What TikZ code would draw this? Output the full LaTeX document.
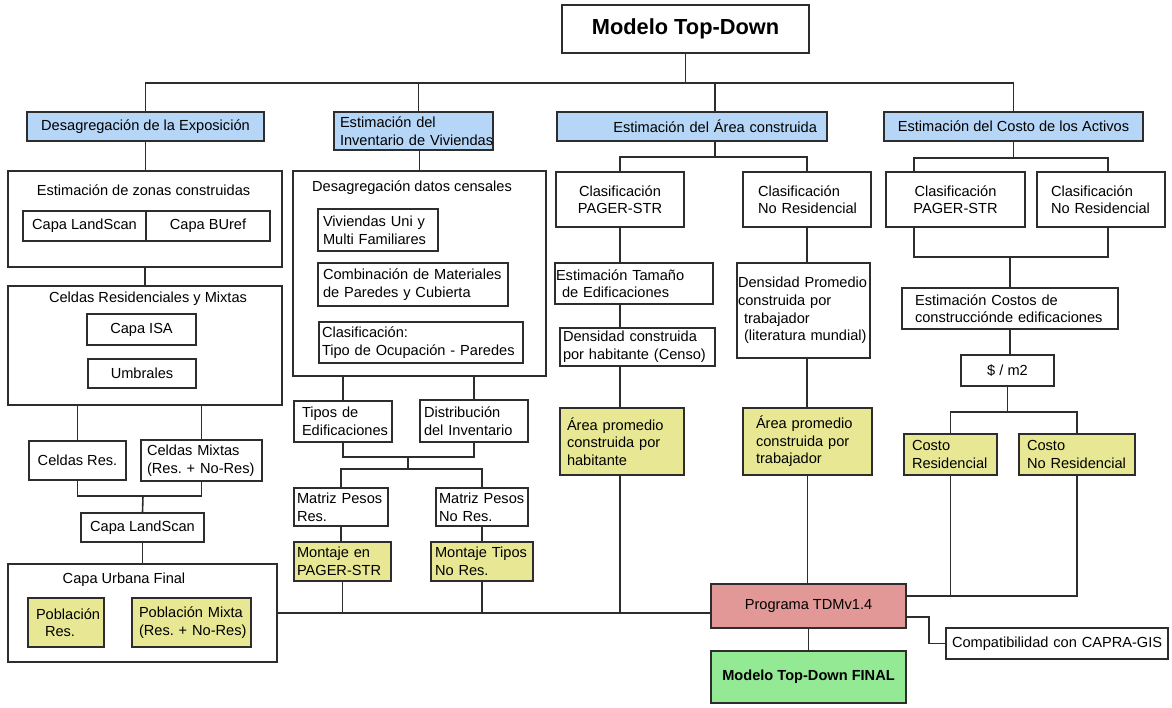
\documentclass[tikz,border=0pt]{standalone}
\usepackage{fontspec}
\setmainfont{Liberation Sans}
\usepackage{tikz}
\usetikzlibrary{calc}

\definecolor{hdrblue}{RGB}{182,214,248}
\definecolor{resyellow}{RGB}{232,232,148}
\definecolor{progred}{RGB}{226,152,150}
\definecolor{fingreen}{RGB}{148,234,148}
\definecolor{linegray}{RGB}{45,45,45}
\frenchspacing

\begin{document}
\begin{tikzpicture}[x=1pt, y=-1pt, font=\fontsize{14.6}{17.6}\selectfont]
	\tikzstyle{every node}=[inner sep=0pt]
	\tikzstyle{box}=[draw=linegray, line width=1.5pt, fill=white, align=center]
	\tikzstyle{txt}=[box, align=left, execute at begin node={\rightskip=0pt plus 1fil minus 80pt}]
	\tikzstyle{hdr}=[box, fill=hdrblue]
	\tikzstyle{yel}=[txt, fill=resyellow]
	\tikzstyle{wire}=[draw=linegray, line width=1.6pt]
	
	\useasboundingbox (0,0) rectangle (1172,708);
	
	\node [box, font=\fontsize{21.8}{26}\selectfont\bfseries, minimum width=247pt, minimum height=48pt] (mtd) at (685.5,29) {Modelo Top-Down};
	\coordinate (bar) at (685.5,83);
	
	% cabeceras
	\node [hdr, minimum width=237pt, minimum height=29pt] (h1) at (145.5,126.5) {Desagregación de la Exposición};
	\node [txt, fill=hdrblue, text width=147pt, inner xsep=6pt, minimum height=38pt] (h2) at (413.5,131) {Estimación del\\Inventario de Viviendas};
	\node [hdr, align=right, text width=250pt, inner xsep=10pt, minimum height=29pt] (h3) at (692,126.5) {Estimación del Área construida};
	\node [hdr, minimum width=259pt, minimum height=29pt] (h4) at (1013.5,126.5) {Estimación del Costo de los Activos};
	
	% exposicion
	\node [box, minimum width=274pt, minimum height=96pt] (zc) at (145,219) {};
	\node (zct) at (143.5,190) {Estimación de zonas construidas};
	\node [box, minimum width=123pt, minimum height=30pt] (ls1) at (84.5,226) {Capa LandScan};
	\node [box, minimum width=124pt, minimum height=30pt] (bu) at (208,226) {Capa BUref};
	
	\node [box, minimum width=274pt, minimum height=119pt] (crm) at (145,345.5) {};
	\node (crmt) at (148,299) {Celdas Residenciales y Mixtas};
	\node [box, minimum width=109pt, minimum height=31pt] (isa) at (141.5,329.5) {Capa ISA};
	\node [box, minimum width=108pt, minimum height=29pt] (umb) at (142,373.5) {Umbrales};
	
	\node [box, minimum width=97pt, minimum height=39pt] (cres) at (77.5,460.5) {Celdas Res.};
	\node [txt, text width=109pt, inner xsep=6pt, minimum height=41pt] (cmix) at (201.5,460.5) {Celdas Mixtas\\(Res. + No-Res)};
	\node [box, minimum width=123pt, minimum height=29pt] (ls2) at (142.5,527.5) {Capa LandScan};
	
	\node [box, minimum width=269pt, minimum height=98pt] (cuf) at (142.5,613) {};
	\node (cuft) at (124,580) {Capa Urbana Final};
	\node [yel, text width=60pt, inner xsep=8pt, minimum height=49pt] (pres) at (66,622.5) {Población\\\hspace*{9pt}Res.};
	\node [yel, text width=105pt, inner xsep=7pt, minimum height=49pt] (pmix) at (191.5,622.5) {Población Mixta\\(Res. + No-Res)};
	
	% inventario
	\node [box, minimum width=253pt, minimum height=205pt] (dc) at (419.5,273.5) {};
	\node [anchor=west] (dct) at (312,188) {Desagregación datos censales};
	\node [txt, text width=110pt, inner xsep=5pt, minimum height=42pt] (vuf) at (378,230) {Viviendas Uni y\\Multi Familiares};
	\node [txt, text width=180pt, inner xsep=5pt, minimum height=43pt] (cmat) at (413,284.5) {Combinación de Materiales\\de Paredes y Cubierta};
	\node [txt, text width=198pt, inner xsep=3pt, minimum height=41pt] (clas) at (421,342.5) {Clasificación:\\Tipo de Ocupación - Paredes};
	
	\node [txt, text width=82pt, inner xsep=8pt, minimum height=41pt] (tipos) at (343,421.5) {Tipos de\\Edificaciones};
	\node [txt, text width=100pt, inner xsep=4pt, minimum height=42pt] (dist) at (474,421) {Distribución\\del Inventario};
	\node [txt, text width=88pt, inner xsep=3pt, minimum height=38pt] (mres) at (341,507) {Matriz Pesos\\Res.};
	\node [txt, text width=86pt, inner xsep=3pt, minimum height=38pt] (mnres) at (482,507) {Matriz Pesos\\No Res.};
	\node [yel, text width=91pt, inner xsep=3pt, minimum height=39pt] (mont1) at (342.5,561.5) {Montaje en\\PAGER-STR};
	\node [yel, text width=94pt, inner xsep=4pt, minimum height=39pt] (mont2) at (482,561.5) {Montaje Tipos\\No Res.};
	
	% area construida
	\node [box, minimum width=128pt, minimum height=55pt] (cp1) at (620,199.5) {Clasificación\\PAGER-STR};
	\node [txt, text width=98pt, inner xsep=15pt, minimum height=55pt] (cn1) at (807,199.5) {Clasificación\\No Residencial};
	\node [txt, text width=156pt, inner xsep=1pt, minimum height=41pt] (etam) at (634,283.5) {Estimación Tamaño\\\hspace*{6pt}de Edificaciones};
	\node [txt, text width=149pt, inner xsep=3pt, minimum height=38pt] (dhab) at (637.5,347) {Densidad construida\\por habitante (Censo)};
	\node [yel, text width=110pt, inner xsep=7pt, minimum height=67pt] (aph) at (622,441.5) {Área promedio\\construida por\\habitante};
	\node [txt, text width=131pt, inner xsep=1pt, minimum height=95pt] (dprom) at (803.5,310.5) {Densidad Promedio\\construida por\\\hspace*{6pt}trabajador\\\hspace*{6pt}(literatura mundial)};
	\node [yel, text width=103pt, inner xsep=13pt, minimum height=67pt] (apt) at (807.5,441.5) {Área promedio\\construida por\\trabajador};
	
	% costo
	\node [box, minimum width=139pt, minimum height=55pt] (cp2) at (955.5,199.5) {Clasificación\\PAGER-STR};
	\node [txt, text width=100pt, inner xsep=14pt, minimum height=55pt] (cn2) at (1101,199.5) {Clasificación\\No Residencial};
	\node [txt, text width=190pt, inner xsep=13pt, minimum height=41pt] (ecc) at (1010,308.5) {Estimación Costos de\\construcciónde edificaciones};
	\node [box, minimum width=93pt, minimum height=31pt] (m2) at (1007.5,370.5) {\$ / m2};
	\node [yel, text width=77pt, inner xsep=8pt, minimum height=41pt] (cres4) at (950.5,454.5) {Costo\\Residencial};
	\node [yel, text width=100pt, inner xsep=8pt, minimum height=41pt] (cnres4) at (1077,454.5) {Costo\\No Residencial};
	
	% programa
	\node [box, fill=progred, minimum width=195pt, minimum height=44pt] (prog) at (808.5,606) {Programa TDMv1.4};
	\node [box, fill=fingreen, font=\fontsize{14.6}{17.6}\selectfont\bfseries, minimum width=195pt, minimum height=52pt] (fin) at (808.5,677) {Modelo Top-Down FINAL};
	\node [txt, text width=210pt, inner xsep=6pt, minimum height=31pt] (compat) at (1057,643.5) {Compatibilidad con CAPRA-GIS};
	
	\coordinate (j1) at (143,496);
	\coordinate (j2a) at (408,457); \coordinate (j2b) at (408,469);
	\coordinate (j3) at (715,157);
	\coordinate (j4a) at ($(h4.south)+(0,16)$);
	\coordinate (j4b) at ($(ecc.north)+(0,-30)$);
	\coordinate (j4c) at ($(m2.south)+(0,25)$);
	\coordinate (pin) at ([yshift=10pt]prog.east);
	
	\draw [wire] (mtd.south) -- (bar); \draw [wire] (h1.north) |- (bar) -| (h4.north);
	\draw [wire] ([xshift=5pt]h2.north) -- ([xshift=5pt]h2.north |- bar);
	\draw [wire] ([xshift=23pt]h3.north) -- ([xshift=23pt]h3.north |- bar);
	
	\draw [wire] (h1.south) -- (h1.south |- zc.north); \draw [wire] (zc.south) -- (crm.north);
	\draw [wire] (cres.north) -- (cres.north |- crm.south); \draw [wire] (cmix.north) -- (cmix.north |- crm.south);
	\draw [wire] (cres.south) |- (j1) -| (cmix.south); \draw [wire] (j1) -- (ls2.north);
	\draw [wire] (ls2.south) -- (cuf.north); \draw [wire] (cuf.east) -- (cuf.east -| prog.west);
	
	\draw [wire] (dc.north) -- (dc.north |- h2.south);
	\draw [wire] (tipos.north) -- (tipos.north |- dc.south); \draw [wire] (dist.north) -- (dist.north |- dc.south);
	\draw [wire] (tipos.south) |- (j2a) -| (dist.south); \draw [wire] (j2a) -- (j2b);
	\draw [wire] (mres.north) |- (j2b) -| (mnres.north);
	\draw [wire] (mres.south) -- (mres.south |- mont1.north); \draw [wire] (mnres.south) -- (mnres.south |- mont2.north);
	\draw [wire] (mont1.south) -- (mont1.south |- cuf.east); \draw [wire] (mont2.south) -- (mont2.south |- cuf.east);
	
	\draw [wire] ([xshift=23pt]h3.south) -- (j3); \draw [wire] (cp1.north) |- (j3) -| (cn1.north);
	\draw [wire] (cp1.south) -- (cp1.south |- etam.north); \draw [wire] (cp1.south |- etam.south) -- (cp1.south |- dhab.north);
	\draw [wire] (cp1.south |- dhab.south) -- (cp1.south |- aph.north); \draw [wire] (cp1.south |- aph.south) -- (cp1.south |- cuf.east);
	\draw [wire] (cn1.south) -- (cn1.south |- dprom.north); \draw [wire] (cn1.south |- dprom.south) -- (cn1.south |- apt.north);
	\draw [wire] (apt.south) -- (apt.south |- prog.north);
	
	\draw [wire] (h4.south) -- (j4a); \draw [wire] ([xshift=-41.5pt]cp2.north) |- (j4a) -| ([xshift=7pt]cn2.north);
	\draw [wire] ([xshift=-41.5pt]cp2.south) |- (j4b) -| ([xshift=7pt]cn2.south); \draw [wire] (j4b) -- (ecc.north);
	\draw [wire] (ecc.south) -- (ecc.south |- m2.north); \draw [wire] (m2.south) -- (j4c);
	\draw [wire] (cres4.north) |- (j4c) -| (cnres4.north);
	\draw [wire] (cnres4.south) |- (pin); \draw [wire] (cres4.south) -- (cres4.south |- pin);
	
	\draw [wire] (prog.south) -- (fin.north);
	\draw [wire] ([yshift=-11pt]prog.east) -- ++(22,0) |- (compat.west);
\end{tikzpicture}
\end{document}
